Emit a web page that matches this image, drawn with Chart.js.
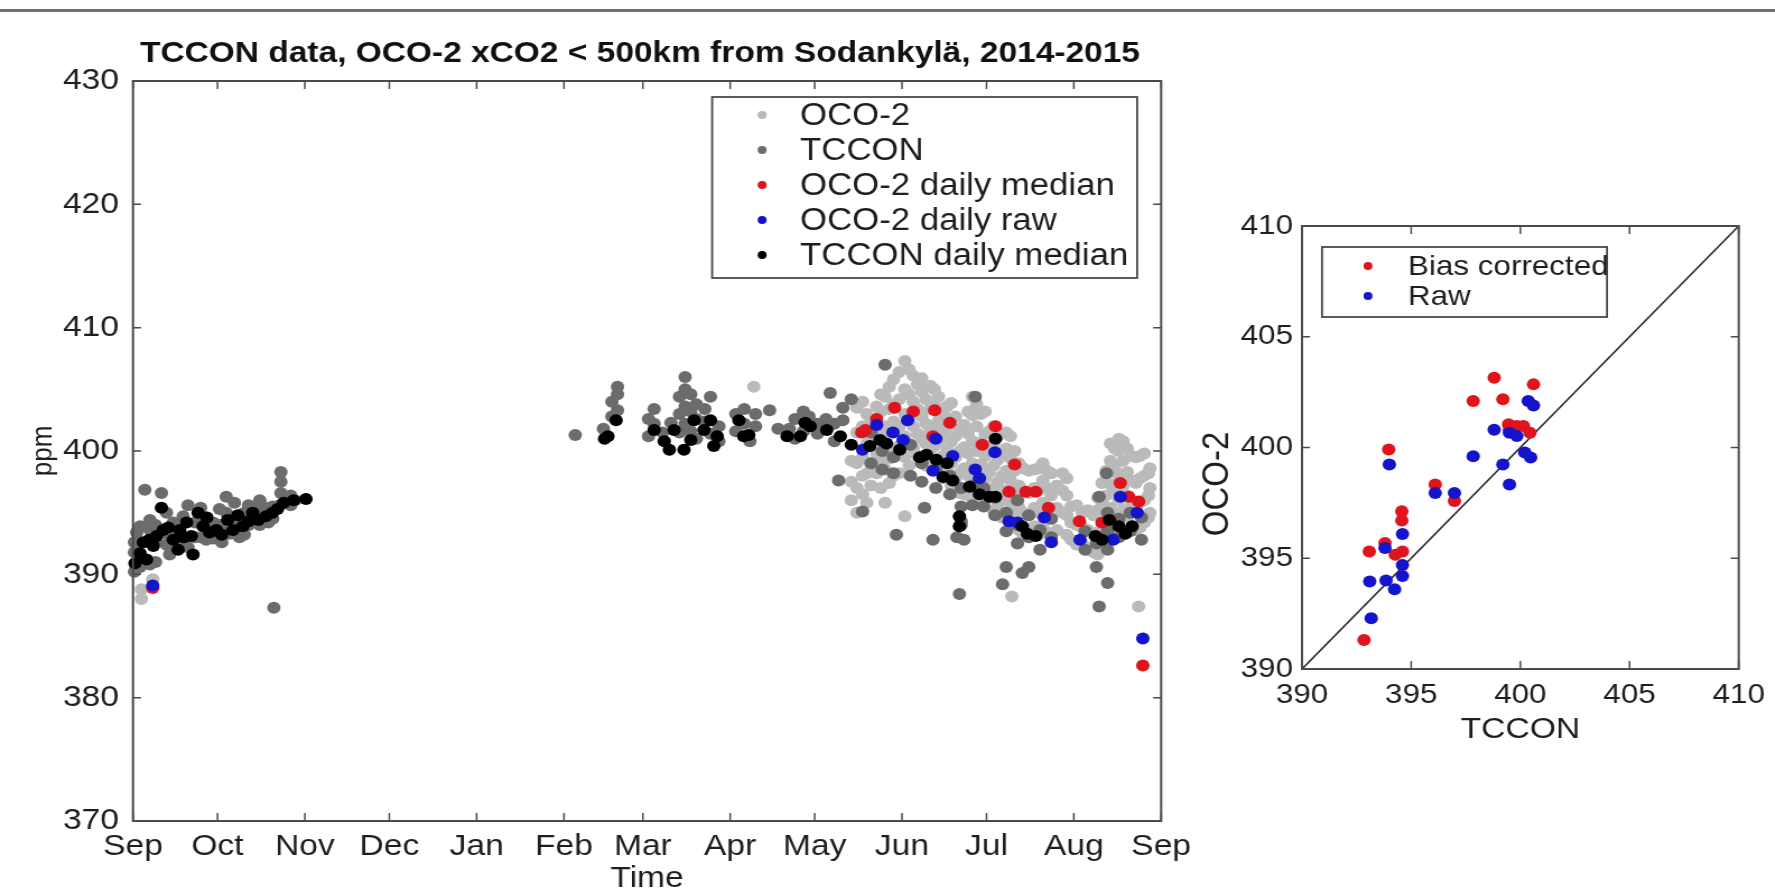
<!DOCTYPE html>
<html>
<head>
<meta charset="utf-8">
<title>TCCON / OCO-2 xCO2, Sodankylä</title>
<script src="https://cdn.jsdelivr.net/npm/chart.js@4.4.1/dist/chart.umd.min.js"></script>
<style>
  html, body { margin: 0; padding: 0; background: #fff; }
  body { width: 1775px; height: 892px; position: relative; overflow: hidden; }
  #topRule { position: absolute; left: 0; top: 9px; width: 1775px; height: 3px; background: #707070; }
  canvas { position: absolute; top: 0; }
</style>
</head>
<body>
<div id="topRule"></div>
<canvas id="timeChart" style="left:0;width:1200px;height:892px"></canvas>
<canvas id="scatterChart" style="left:1200px;width:575px;height:892px"></canvas>
<script>
// time axis: days counted from 1 Sep 2014
const monthTickDays = [0, 30, 61, 91, 122, 153, 181, 212, 242, 273, 303, 334, 365];
const monthTickLabels = ['Sep', 'Oct', 'Nov', 'Dec', 'Jan', 'Feb', 'Mar', 'Apr', 'May', 'Jun', 'Jul', 'Aug', 'Sep'];
const ppmTicks = [370, 380, 390, 400, 410, 420, 430];

// OCO-2 single soundings, per day: [day, [xCO2, ...]]
const oco2Soundings = [
  [3, [388.0, 388.8]], [7, [389.6]], [220.4, [405.2]],
  [255, [396.0, 397.5, 399.2]], [257, [395.0, 397.0, 399.0, 401.5, 403.5]],
  [259, [396.5, 398.0, 399.5, 402.0, 404.0]], [260.5, [395.8, 398.2, 400.6, 403.0]],
  [262, [397.2, 399.0, 400.8, 402.6]], [264, [398.2, 399.8, 401.5, 403.6]],
  [265.5, [397.0, 399.2, 401.0, 403.2, 404.6]], [267, [395.8, 398.5, 400.2, 402.0, 404.4]],
  [268.5, [397.4, 399.4, 401.6, 403.4, 405.2]], [270, [398.0, 400.0, 402.4, 403.8, 405.8]],
  [272, [398.2, 400.4, 402.0, 404.2, 406.4]], [274, [394.7, 399.5, 401.2, 403.0, 405.0, 407.3]],
  [275.5, [398.8, 400.6, 402.6, 404.6, 406.6]], [277, [400.2, 402.0, 404.0, 406.1]],
  [278.5, [399.6, 401.4, 403.4, 405.4]], [280, [399.0, 401.0, 402.8, 404.8, 405.9]],
  [281.5, [398.8, 400.6, 402.2, 404.2]], [283, [400.0, 401.6, 403.4, 405.3]],
  [284.5, [398.6, 400.4, 402.0, 403.8, 405.0]], [286, [399.3, 400.8, 402.5, 404.4]],
  [287.5, [397.8, 399.6, 401.4, 403.2]], [289, [398.3, 400.1, 401.9, 403.6]],
  [290.5, [397.2, 399.0, 400.8, 402.6, 403.9]], [292, [397.8, 399.5, 401.2, 402.8]],
  [293.5, [396.6, 398.2, 400.0, 401.8]], [295, [396.5, 398.6, 400.3, 402.1]],
  [296.5, [396.4, 398.0, 399.8, 401.4, 403.2]], [298, [397.5, 399.0, 400.8, 402.9, 404.4]],
  [299.5, [396.2, 398.2, 400.0, 402.0, 403.8]], [301, [397.0, 398.9, 400.7, 403.0]],
  [302.5, [396.0, 397.8, 399.6, 401.4, 403.2]], [304, [396.4, 398.3, 400.0, 401.6]],
  [305.5, [395.2, 397.0, 398.8, 400.6, 402.0]], [307, [395.6, 397.5, 399.3, 401.2]],
  [308.5, [394.6, 396.2, 398.0, 399.8]], [310, [394.8, 396.8, 398.4, 400.2, 401.5]],
  [311.5, [394.0, 395.8, 397.6, 399.4, 401.2]], [312, [388.2]],
  [313, [395.0, 396.6, 398.4, 400.0]], [314.5, [393.6, 395.4, 397.2, 399.0]],
  [316, [393.2, 395.0, 396.8, 398.6]], [318, [393.0, 394.8, 396.6, 398.4]],
  [320, [393.9, 395.4, 397.0, 398.5]], [321.5, [393.2, 395.0, 396.8, 398.6]],
  [323, [394.0, 395.8, 397.6, 399.0]], [324.5, [393.4, 395.2, 397.0, 398.4]],
  [326, [394.5, 396.4, 398.2]], [328, [393.6, 395.4, 397.2]], [330, [395.0, 396.8, 398.2]],
  [331.5, [393.2, 394.8, 396.4, 397.8]], [333, [392.8, 394.2, 395.5]], [335, [392.4, 394.0, 395.6]],
  [337, [392.5, 393.8, 395.0]], [339, [392.0, 393.6, 395.2]], [341, [391.8, 393.2, 394.8]],
  [342.5, [391.6, 393.4, 395.2, 396.2]], [344, [392.4, 394.0, 395.8, 397.4]],
  [345.5, [392.6, 394.4, 396.4, 398.4]], [347, [393.5, 395.4, 397.3, 399.2, 400.6]],
  [348.5, [393.0, 394.8, 396.8, 398.6, 400.2]], [350, [394.0, 396.0, 398.0, 400.0, 401.0]],
  [351.5, [393.4, 395.2, 397.2, 399.2, 400.8]], [353, [394.6, 396.4, 398.3, 400.2]],
  [354.5, [393.6, 395.6, 397.6, 399.6]], [356, [393.6, 395.5, 397.4, 399.5]], [357, [387.4]],
  [357.5, [393.8, 395.8, 397.8, 399.6]], [359, [394.2, 396.0, 398.0, 399.8]],
  [360.5, [394.6, 396.4, 398.2]], [361, [395.0, 397.0, 398.6]]
];

// TCCON single measurements, per day
const tcconSoundings = [
  [0.5, [390.2, 391.8, 392.6]], [1.3, [392.5, 393.4]], [2.5, [390.6, 393.9]], [4.2, [396.85]],
  [6, [390.8, 393.6, 394.4]], [8, [391.0, 392.8, 394.0]], [10.1, [396.6]], [11.9, [392.4, 395.0]],
  [13, [391.6, 393.0]], [14.3, [393.5, 394.2]], [17.8, [392.8, 394.7]], [19.5, [392.2, 395.6]],
  [22, [393.0, 394.2]], [24, [393.0, 395.4]], [26, [392.8, 394.6]], [28.4, [392.9, 394.2]],
  [30.7, [394.0, 395.3]], [31.5, [392.6, 393.6]], [33.1, [395.0, 396.3]], [34.3, [393.3, 394.7]],
  [36, [394.2, 395.8]], [37.8, [393.0, 394.4]], [39.5, [393.2, 395.0]], [41, [394.0, 395.6]],
  [43.7, [394.2, 395.3]], [45, [394.0, 396.0]], [46, [395.5]], [48, [394.2, 395.0]],
  [49.6, [394.5, 395.5]], [50, [387.3]], [52, [395.6]], [52.5, [396.6, 397.5, 398.3]],
  [54.7, [396.1]], [56, [395.6, 396.4]], [57.5, [396.0]],
  [157, [401.3]], [167, [401.8]], [170, [402.8, 404.0]], [172, [403.3, 404.6, 405.2]],
  [183, [401.2, 402.6]], [185, [402.2, 403.4]], [188, [401.5]], [191, [402.3]],
  [194, [401.5, 403.0, 404.4]], [196, [402.2, 403.6, 405.0, 406.0]], [198, [401.6, 403.2, 404.6]],
  [200, [401.0, 402.6, 403.8]], [203, [402.4, 403.4]], [205, [401.4, 404.4]], [208, [400.8, 402.0]],
  [214, [401.6, 403.0]], [217, [402.2, 403.4]], [219, [400.8]], [221, [402.0, 403.0]],
  [226, [403.3]], [229, [401.8]], [233, [401.8]], [235, [401.0, 402.6]], [238, [401.6, 403.2]],
  [240, [402.8]], [243, [401.4, 402.2]], [246, [402.6]], [247.5, [404.7]], [249, [400.8, 402.2]],
  [250.5, [397.6]], [252, [402.5, 403.5]], [255, [404.2]],
  [259, [395.1]], [262, [399.0, 401.5]], [266, [398.5, 400.0]], [267, [407.0]],
  [270, [398.2, 399.5]], [271, [393.2]], [276, [398.0, 400.5]], [280, [397.5, 399.0]],
  [281, [395.4]], [284, [392.8]], [285, [397.0, 398.5]], [290, [396.5, 398.0]],
  [292.5, [393.0]], [293.4, [388.4]], [294, [394.0, 394.3, 395.5, 397.0]], [295, [392.8]],
  [298, [395.6, 397.2]], [299, [404.4]], [302, [395.5, 397.0]], [306, [394.8, 396.2]],
  [308.7, [389.2]], [310, [390.6, 393.5, 395.0]], [314, [392.5, 394.0, 396.0]], [315.7, [390.1]],
  [318, [390.6, 393.0, 394.8]], [322, [392.0, 393.6]], [326, [393.0, 394.5]], [338, [392.0, 393.5]],
  [342, [390.6, 392.5]], [343, [387.4, 396.3]], [345.6, [398.2]], [346, [389.3, 392.0, 393.5, 395.0]],
  [350, [393.0, 394.5]], [354, [393.5, 395.0]], [358, [392.8, 394.6]]
];

// daily values: [day, xCO2]
const oco2DailyMedian = [
  [7, 388.9], [258.7, 401.5], [260, 401.7], [264, 402.6], [270.4, 403.5], [277, 403.2],
  [284, 401.2], [284.6, 403.3], [290, 402.3], [301.5, 400.5], [306.2, 402.0], [311, 396.7],
  [313, 398.9], [317, 396.7], [320.5, 396.7], [325, 395.4], [336, 394.3], [344, 394.2],
  [350.5, 397.4], [353.5, 396.3], [357, 395.9], [358.5, 382.6]
];
const oco2DailyRaw = [
  [7, 389.1], [259, 400.1], [264, 402.1], [269.8, 401.5], [273.4, 400.9], [275, 402.5],
  [284, 398.4], [285, 401.0], [291, 399.6], [299, 398.5], [300.5, 397.8], [306, 399.9],
  [311, 394.3], [314, 394.2], [323.5, 394.6], [326, 392.6], [336.2, 392.8], [348, 392.8],
  [350.5, 396.3], [356.5, 395.0], [358.5, 384.8]
];
const tcconDailyMedian = [
  [0.7, 390.9], [2.5, 391.7], [3.7, 392.6], [4.8, 391.2], [5.8, 392.8], [7.2, 392.3], [8.4, 393.1],
  [10.1, 395.4], [10.7, 393.6], [12.5, 393.8], [14.3, 392.8], [16, 392.0], [16.6, 393.6],
  [18, 393.0], [19, 394.2], [20.7, 393.1], [21.3, 391.6], [23.1, 395.0], [24.9, 393.9],
  [26.2, 394.6], [27.2, 393.4], [29.6, 393.6], [31.5, 393.2], [33.6, 394.4], [35.5, 393.6],
  [37.2, 394.8], [39, 393.9], [41, 394.3], [42.5, 395.0], [44.5, 394.4], [47.2, 394.7],
  [49.5, 395.0], [51.3, 395.3], [53.5, 395.8], [57, 396.0], [61.4, 396.1],
  [167.4, 401.0], [168.6, 401.2], [171.5, 402.5], [185, 401.7], [188.6, 400.8], [190.4, 400.1],
  [192.1, 401.7], [195.6, 400.1], [198, 400.9], [199.2, 402.5], [202.7, 401.7], [205, 402.5],
  [206.2, 400.4], [207.4, 401.2], [215.1, 402.5], [216.8, 401.2], [218.6, 401.3], [232.2, 401.2],
  [236.9, 401.2], [238.6, 402.3], [240.4, 402.0], [246.3, 401.7], [251.1, 401.2],
  [255, 400.5], [261.6, 400.4], [265.2, 400.9], [267.5, 400.6], [272.2, 400.1], [279.3, 399.5],
  [281.7, 399.7], [285.2, 399.3], [287.6, 397.9], [289, 399.0], [291, 397.6], [293.4, 394.7],
  [293.4, 393.9], [297, 397.1], [300.5, 396.5], [304, 396.3], [306.2, 396.3], [306.2, 401.0],
  [315.7, 393.9], [317.5, 393.3], [320.5, 393.1], [341.7, 393.1], [344, 392.8], [346.6, 394.4],
  [350, 393.9], [352.3, 393.3], [354.7, 393.9]
];

// scatter panel: [TCCON, OCO-2]
const biasCorrectedPairs = [
  [392.84, 391.31], [393.08, 395.31], [393.8, 395.69], [393.97, 399.91], [394.27, 395.16],
  [394.6, 395.3], [394.57, 397.12], [394.57, 396.7], [396.1, 398.33], [396.98, 397.58],
  [397.84, 402.1], [398.8, 403.15], [399.2, 402.18], [399.46, 401.05], [399.5, 400.8],
  [399.84, 400.97], [400.14, 400.97], [400.44, 400.67], [400.6, 402.85]
];
const rawPairs = [
  [393.17, 392.29], [393.1, 393.95], [393.8, 395.46], [393.85, 394.0], [394.24, 393.6],
  [394.6, 394.2], [394.6, 394.7], [394.6, 396.1], [394.0, 399.23], [396.1, 397.95],
  [396.98, 397.95], [397.84, 399.61], [398.8, 400.8], [399.2, 399.23], [399.5, 398.33],
  [399.5, 400.67], [399.84, 400.52], [400.2, 399.77], [400.47, 399.55], [400.36, 402.1],
  [400.6, 401.9]
];
const scatterTicks = [390, 395, 400, 405, 410];
const oneToOne = [390, 410];

const FONT = '"Liberation Sans", Arial, Helvetica, sans-serif';
const TEXT = '#1e1e1e';
const FRAME = '#4a4a4a';
// the reference figure is stretched sideways, so the canvases are drawn narrower and widened by CSS
const STRETCH = 1.12;

Chart.defaults.font.family = FONT;
Chart.defaults.color = TEXT;

const flatten = groups => groups.flatMap(([d, vals]) => vals.map(v => ({ x: d, y: v })));
const pairs = list => list.map(([x, y]) => ({ x, y }));

function framePlugin(sx, tickLen) {
  return {
    id: 'frame',
    afterDatasetsDraw(chart) {
      const { ctx, chartArea: a, scales: { x, y } } = chart;
      ctx.save();
      ctx.strokeStyle = FRAME;
      ctx.lineWidth = 1.5;
      ctx.beginPath();
      x.ticks.forEach(t => {
        const px = x.getPixelForValue(t.value);
        ctx.moveTo(px, a.bottom); ctx.lineTo(px, a.bottom - tickLen);
        ctx.moveTo(px, a.top); ctx.lineTo(px, a.top + tickLen);
      });
      y.ticks.forEach(t => {
        const py = y.getPixelForValue(t.value);
        ctx.moveTo(a.left, py); ctx.lineTo(a.left + tickLen / sx, py);
        ctx.moveTo(a.right, py); ctx.lineTo(a.right - tickLen / sx, py);
      });
      ctx.stroke();
      ctx.lineWidth = 2;
      ctx.strokeRect(a.left, a.top, a.right - a.left, a.bottom - a.top);
      ctx.restore();
    }
  };
}

// MATLAB-like legend box inside the axes; x offsets are in page pixels
function legendPlugin(sx, cfg) {
  return {
    id: 'boxLegend',
    afterDraw(chart) {
      const { ctx, chartArea: a } = chart;
      const w = cfg.width / sx;
      const left = cfg.fromRight ? a.right - cfg.inset / sx - w : a.left + cfg.inset / sx;
      const top = a.top + cfg.top;
      ctx.save();
      ctx.fillStyle = '#fff';
      ctx.fillRect(left, top, w, cfg.height);
      ctx.strokeStyle = FRAME;
      ctx.lineWidth = 1.8;
      ctx.strokeRect(left, top, w, cfg.height);
      ctx.font = cfg.fontSize + 'px ' + FONT;
      ctx.textBaseline = 'middle';
      cfg.items.forEach((idx, i) => {
        const ds = chart.data.datasets[idx];
        const cy = top + cfg.firstRow + i * cfg.rowGap;
        ctx.fillStyle = ds.backgroundColor;
        ctx.beginPath();
        ctx.arc(left + cfg.markerX / sx, cy, cfg.markerR, 0, Math.PI * 2);
        ctx.fill();
        ctx.fillStyle = TEXT;
        ctx.fillText(ds.label, left + cfg.textX / sx, cy + 1);
      });
      ctx.restore();
    }
  };
}

// bold title, fitted to a given page width
function titlePlugin(sx, text, cfg) {
  return {
    id: 'wideTitle',
    afterDraw(chart) {
      const { ctx } = chart;
      ctx.save();
      ctx.font = 'bold ' + cfg.size + 'px ' + FONT;
      const w = ctx.measureText(text).width;
      ctx.translate(cfg.cx / sx, cfg.baseline);
      ctx.scale(cfg.width / sx / w, 1);
      ctx.textAlign = 'center';
      ctx.textBaseline = 'alphabetic';
      ctx.fillStyle = '#111';
      ctx.fillText(text, 0, 0);
      ctx.restore();
    }
  };
}

// rotated axis label at a fixed page position
function sideLabelPlugin(sx, text, cfg) {
  return {
    id: 'sideLabel',
    afterDraw(chart) {
      const { ctx } = chart;
      ctx.save();
      ctx.translate(cfg.cx / sx, cfg.cy);
      ctx.rotate(-Math.PI / 2);
      ctx.font = cfg.size + 'px ' + FONT;
      ctx.textAlign = 'center';
      ctx.textBaseline = 'middle';
      ctx.fillStyle = TEXT;
      ctx.fillText(text, 0, 0);
      ctx.restore();
    }
  };
}

function dots(label, data, color, order, r) {
  return { label, data, backgroundColor: color, borderWidth: 0, pointRadius: r, order, clip: false };
}

// ---------- left panel: time series ----------
const timeCanvas = document.getElementById('timeChart');
timeCanvas.width = Math.round(1200 / STRETCH);
timeCanvas.height = 892;
const S1 = 1200 / timeCanvas.width;

new Chart(timeCanvas, {
  type: 'scatter',
  data: {
    datasets: [
      dots('OCO-2', flatten(oco2Soundings), '#bababa', 5, 6),
      dots('TCCON', flatten(tcconSoundings), '#6c6c6c', 4, 6),
      dots('OCO-2 daily median', pairs(oco2DailyMedian), '#e0141c', 3, 6),
      dots('OCO-2 daily raw', pairs(oco2DailyRaw), '#1414cc', 2, 6),
      dots('TCCON daily median', pairs(tcconDailyMedian), '#000000', 1, 6)
    ]
  },
  options: {
    responsive: false,
    devicePixelRatio: 1,
    animation: false,
    events: [],
    layout: { padding: { left: 0, right: (1200 - 1162) / S1, top: 81, bottom: 0 } },
    plugins: { legend: { display: false }, tooltip: { enabled: false } },
    scales: {
      x: {
        type: 'linear', min: 0, max: 365,
        afterBuildTicks: s => { s.ticks = monthTickDays.map(v => ({ value: v })); },
        afterFit: s => { s.height = 71; },
        grid: { display: false, drawTicks: false },
        border: { display: false },
        ticks: { autoSkip: false, maxRotation: 0, padding: 8, font: { size: 30 },
                 callback: (v, i) => monthTickLabels[i] },
        title: { display: true, text: 'Time', font: { size: 30 }, padding: { top: 0, bottom: -5 } }
      },
      y: {
        min: 370, max: 430,
        afterBuildTicks: s => { s.ticks = ppmTicks.map(v => ({ value: v })); },
        afterFit: s => { s.width = 133 / S1; },
        grid: { display: false, drawTicks: false },
        border: { display: false },
        ticks: { padding: 14 / S1, font: { size: 30 } },
        title: { display: true, text: 'ppm', font: { size: 26 }, padding: { top: 23, bottom: 0 } }
      }
    }
  },
  plugins: [
    framePlugin(S1, 8),
    titlePlugin(S1, 'TCCON data, OCO-2 xCO2 < 500km from Sodankylä, 2014-2015',
      { size: 30, cx: 640, width: 1000, baseline: 62 }),
    legendPlugin(S1, { fromRight: true, inset: 24, width: 425, top: 16, height: 181,
      firstRow: 18, rowGap: 35, markerX: 50, markerR: 4, textX: 88, fontSize: 31,
      items: [0, 1, 2, 3, 4] })
  ]
});

// ---------- right panel: OCO-2 vs TCCON ----------
const scatterCanvas = document.getElementById('scatterChart');
scatterCanvas.width = Math.round(575 / STRETCH);
scatterCanvas.height = 892;
const S2 = 575 / scatterCanvas.width;

new Chart(scatterCanvas, {
  type: 'scatter',
  data: {
    datasets: [
      dots('Bias corrected', pairs(biasCorrectedPairs), '#e0141c', 2, 6),
      dots('Raw', pairs(rawPairs), '#1414cc', 1, 6),
      { label: '1:1', data: oneToOne.map(v => ({ x: v, y: v })), showLine: true,
        borderColor: '#2a2a2a', borderWidth: 1.6, pointRadius: 0, order: 3 }
    ]
  },
  options: {
    responsive: false,
    devicePixelRatio: 1,
    animation: false,
    events: [],
    layout: { padding: { left: 0, right: (575 - 544) / S2, top: 226, bottom: 143 } },
    plugins: { legend: { display: false }, tooltip: { enabled: false } },
    scales: {
      x: {
        type: 'linear', min: 390, max: 410,
        afterBuildTicks: s => { s.ticks = scatterTicks.map(v => ({ value: v })); },
        afterFit: s => { s.height = 80; },
        grid: { display: false, drawTicks: false },
        border: { display: false },
        ticks: { autoSkip: false, maxRotation: 0, padding: 9, font: { size: 28 } },
        title: { display: true, text: 'TCCON', font: { size: 30 }, padding: { top: 0, bottom: 1 } }
      },
      y: {
        min: 390, max: 410,
        afterBuildTicks: s => { s.ticks = scatterTicks.map(v => ({ value: v })); },
        afterFit: s => { s.width = 102 / S2; },
        grid: { display: false, drawTicks: false },
        border: { display: false },
        ticks: { padding: 9 / S2, font: { size: 28 } }
      }
    }
  },
  plugins: [
    framePlugin(S2, 8),
    sideLabelPlugin(S2, 'OCO-2', { cx: 18, cy: 484, size: 33 }),
    legendPlugin(S2, { fromRight: false, inset: 20, width: 285, top: 21, height: 70,
      firstRow: 19, rowGap: 30, markerX: 46, markerR: 4, textX: 86, fontSize: 28,
      items: [0, 1] })
  ]
});
</script>
</body>
</html>
